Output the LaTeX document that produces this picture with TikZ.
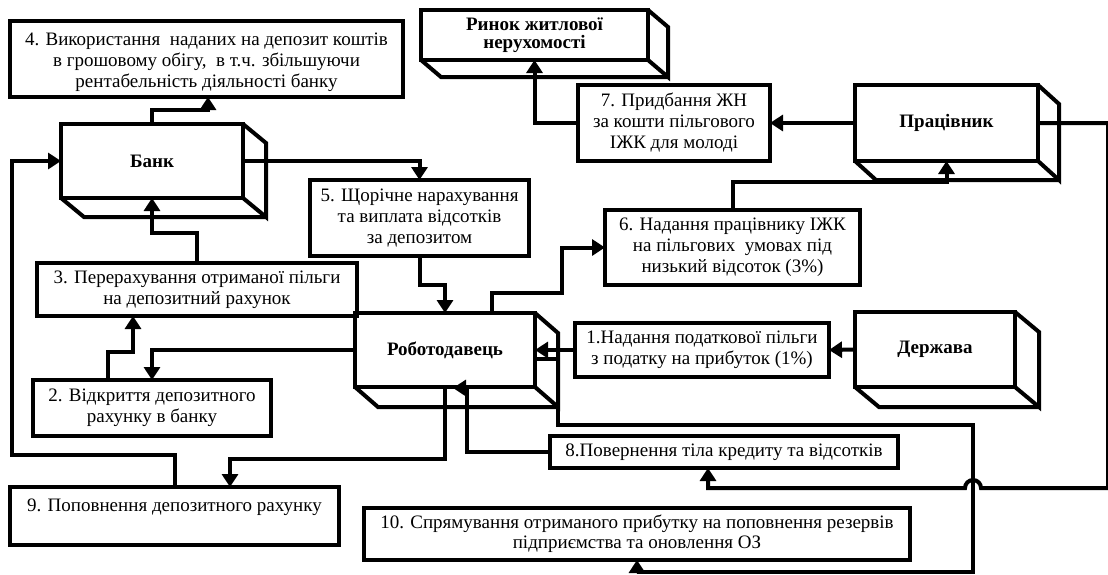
\documentclass[tikz,border=0pt]{standalone}
\usepackage{fontspec}
\setmainfont{Liberation Serif}
\usetikzlibrary{arrows.meta,calc}
\tikzset{
  box/.style={draw, line width=4pt, inner sep=0pt, outer sep=0pt, align=center,
              font=\fontsize{19}{21}\selectfont},
  cube/.style={box, font=\fontsize{19}{21}\selectfont\bfseries},
  face/.style={line width=4pt},
  arr/.style={line width=4pt, -{Triangle[length=13pt,width=16pt]}},
  ln/.style={line width=4pt},
}
\newcommand{\cubeside}[3]{%
  \draw[face] (#1.north east) -- ++(#2,#3) -- ($(#1.south east)+(#2,#3)$) -- (#1.south east)
              (#1.south west) -- ++(#2,#3) -- ($(#1.south east)+(#2,#3)$);}
\begin{document}
\begin{tikzpicture}[x=1pt,y=-1pt]
\useasboundingbox[fill=white] (0,0) rectangle (1108,574);

% nodes
\node[box, minimum width=393, minimum height=76] (b4) at (206.5,59)
  {\rule{0pt}{20pt}4. Використання~ наданих на депозит коштів\\ в грошовому обігу,~ в т.ч. збільшуючи\\ рентабельність діяльності банку};
\node[cube, minimum width=182, minimum height=74] (bank) at (152,161) {Банк};
\node[cube, minimum width=227, minimum height=50, font=\fontsize{19}{18}\selectfont\bfseries] (rinok) at (534.5,35) {Ринок житлової\\ нерухомості};
\node[box, minimum width=192, minimum height=76] (b7) at (674,123)
  {7. Придбання ЖН\\ за кошти пільгового\\ ІЖК для молоді};
\node[cube, minimum width=183, minimum height=76] (prac) at (946.5,123) {Працівник};
\node[box, minimum width=219, minimum height=76] (b5) at (419.5,218)
  {5. Щорічне нарахування\\ та виплата відсотків\\ за депозитом};
\node[box, minimum width=255, minimum height=75] (b6) at (732.5,247.5)
  {6. Надання працівнику ІЖК\\ на пільгових~ умовах під\\ низький відсоток (3\%)};
\node[box, minimum width=320, minimum height=53] (b3) at (197,289.5)
  {3. Перерахування отриманої пільги\\ на депозитний рахунок};
\node[cube, minimum width=180, minimum height=74] (rob) at (445,350) {Роботодавець};
\node[box, minimum width=254, minimum height=54] (b1) at (702,350)
  {1.Надання податкової пільги\\ з податку на прибуток (1\%)};
\node[cube, minimum width=160, minimum height=75] (derzh) at (935,349.5) {Держава};
\node[box, minimum width=238, minimum height=56] (b2) at (152,408)
  {2. Відкриття депозитного\\ рахунку в банку};
\node[box, minimum width=348, minimum height=32] (b8) at (724,452)
  {8.Повернення тіла кредиту та відсотків};
\node[box, minimum width=329, minimum height=58] (b9) at (174.5,516)
  {9. Поповнення депозитного рахунку\\ \mbox{}};
\node[box, minimum width=546, minimum height=52, font=\fontsize{19}{20}\selectfont] (b10) at (637,534)
  {10. Спрямування отриманого прибутку на поповнення резервів\\ підприємства та оновлення ОЗ};

% 3D sides
\cubeside{bank}{23}{19}
\cubeside{rinok}{20}{17}
\cubeside{prac}{21}{19}
\cubeside{rob}{23}{20}
\cubeside{derzh}{24}{20}

% bend coordinates
\coordinate (k1) at (208,110);
\coordinate (k3) at (12,455);
\coordinate (k4) at (152,233);
\coordinate (k5) at (133,352);
\coordinate (k8a) at (562,293);
\coordinate (k15) at (467,388);
\coordinate (k15e) at (453,388);
\coordinate (k16a) at (558,425);
\coordinate (k16b) at (973,572);
\coordinate (k17a) at (1108,488);
\coordinate (k17b) at (708,488);

% connectors
\draw[arr] (bank.north) |- (k1) -- (k1 |- b4.south);
\draw[arr] (bank.east) -| (b5.north);
\draw[arr] (b9.north) |- (k3) |- (bank.west);
\draw[arr] (b3.north) |- (k4) -- (bank.south);
\draw[arr] ($(b2.north west)+(75,0)$) |- (k5) -- (k5 |- b3.south);
\draw[arr] (rob.west) -| (b2.north);
\draw[arr] (b5.south) -- ++(0,29) -| (rob.north);
\draw[arr] ($(rob.north)+(47,0)$) |- (k8a) |- (b6.west);
\draw[arr] (b6.north) -- ++(0,-28) -| (prac.south);
\draw[arr] (prac.west) -- (b7.east);
\draw[arr] (b7.west) -| (rinok.south);
\draw[arr] (derzh.west) -- (b1.east);
\draw[arr] (b1.west) -- (rob.east);
\draw[arr] (rob.south) -- ++(0,72) -| ($(b9.north west)+(220,0)$);
\draw[arr] (b8.west) -| (k15) -- (k15e);
\draw[arr] ($(rob.east)+(0,9)$) -| (k16a) -| (k16b) -| (b10.south);
\draw[arr] (prac.east) -| (k17a) -- (981,488) arc[start angle=0, end angle=180, radius=8pt]
  -- (k17b) -- (k17b |- b8.south);
\end{tikzpicture}
\end{document}
